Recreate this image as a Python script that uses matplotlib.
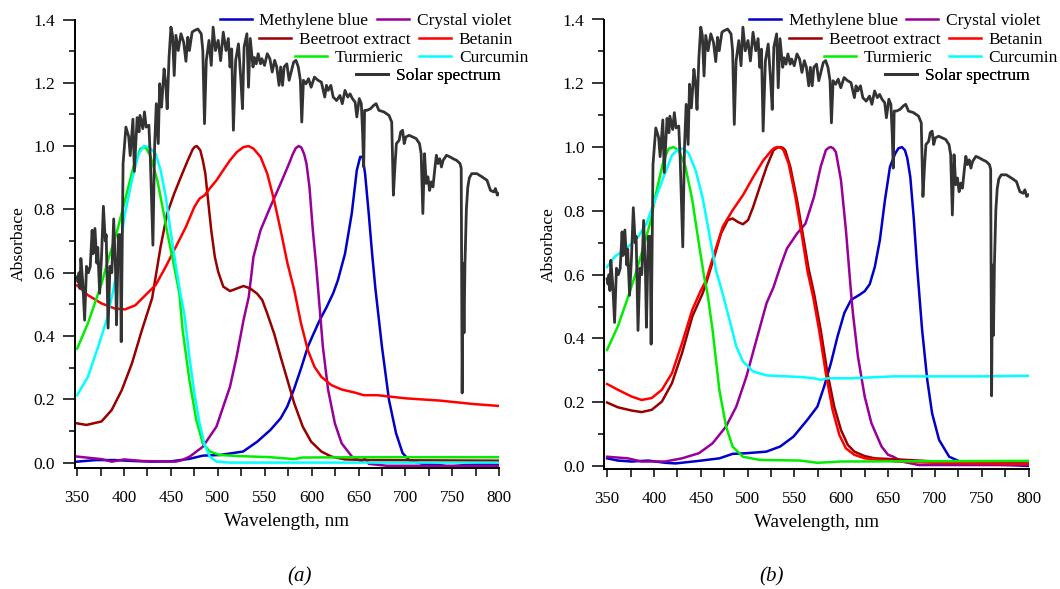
import matplotlib.pyplot as plt
from matplotlib.ticker import MultipleLocator

plt.rcParams['font.family'] = ['Liberation Serif', 'DejaVu Serif']

# solar spectrum (same curve in both panels)
solar_nm = [350, 351, 352, 353, 354, 356, 358, 360, 362, 364,
            366, 367, 369, 371, 372, 374, 376, 378, 380, 381,
            383, 385, 387, 389, 391, 392, 394, 396, 397, 399,
            402, 405, 406.6, 409.5, 411, 414, 416, 417, 420, 421.8,
            423.6, 426.5, 428, 430.8, 432.6, 434.4, 436.5, 438, 440, 442.7,
            444.5, 446, 448, 450, 451.7, 453.5, 455.3, 457.8, 460.7, 463.6,
            466, 468, 469.7, 472.6, 475, 478.7, 482.3, 484, 485.8, 487.7,
            490.6, 493, 495, 497.5, 500.4, 503, 505.8, 508.7, 511.2, 513,
            514.8, 516.6, 519, 522, 524.6, 526.3, 528, 531, 532.7, 534.6,
            537.5, 539, 541, 543, 545.5, 547, 549.8, 552.7, 555.5, 558,
            560.6, 562.8, 565.3, 567, 569, 570.7, 573.6, 576, 578.6, 580.8,
            583.3, 585.8, 588, 589.5, 591.3, 594, 596.7, 599.5, 603, 606.8,
            610.4, 614, 615.8, 617.6, 620.5, 623, 626.6, 630.2, 632.7, 635.6,
            638.5, 641, 643.5, 646.4, 648.2, 650.8, 653, 654.4, 655.5, 656.5,
            659, 662.7, 666.3, 668.8, 671.7, 677.1, 682.5, 685.4, 687.2, 689,
            690.4, 693.3, 695, 697, 698.7, 700.5, 704, 707.8, 711.4, 715,
            716.8, 718.6, 720.4, 722.2, 724, 725.8, 727.6, 729.4, 731.2, 733,
            734.8, 736.6, 738.4, 740.2, 743.8, 747.4, 751, 754.6, 758.2, 759.5,
            760.5, 761.5, 762.5, 763.5, 765, 766.5, 768.2, 770.8, 776.2, 781.6,
            787, 790.7, 794.3, 796, 798, 799.7]
solar_val = [0.587, 0.57, 0.60, 0.55, 0.645, 0.57, 0.45, 0.62, 0.60, 0.62,
             0.734, 0.66, 0.74, 0.63, 0.68, 0.535, 0.65, 0.81, 0.70, 0.72,
             0.425, 0.62, 0.60, 0.77, 0.60, 0.435, 0.72, 0.72, 0.382, 0.945,
             1.06, 1.03, 0.97, 1.085, 0.92, 1.09, 1.045, 1.097, 1.055, 1.108,
             1.06, 1.066, 0.966, 0.687, 0.997, 1.134, 1.008, 1.197, 1.123, 1.244,
             1.197, 1.118, 1.28, 1.376, 1.35, 1.223, 1.35, 1.302, 1.355, 1.328,
             1.268, 1.344, 1.302, 1.36, 1.365, 1.37, 1.355, 1.302, 1.071, 1.27,
             1.334, 1.255, 1.376, 1.302, 1.334, 1.27, 1.36, 1.302, 1.34, 1.25,
             1.307, 1.05, 1.27, 1.323, 1.208, 1.118, 1.313, 1.355, 1.186, 1.34,
             1.25, 1.28, 1.26, 1.292, 1.26, 1.276, 1.255, 1.292, 1.276, 1.234,
             1.271, 1.25, 1.192, 1.25, 1.192, 1.25, 1.26, 1.208, 1.239, 1.265,
             1.271, 1.25, 1.208, 1.076, 1.208, 1.197, 1.213, 1.186, 1.218, 1.208,
             1.202, 1.155, 1.192, 1.176, 1.192, 1.155, 1.144, 1.16, 1.134, 1.176,
             1.155, 1.165, 1.15, 1.139, 1.092, 1.15, 1.134, 1.039, 0.934, 1.113,
             1.113, 1.118, 1.129, 1.134, 1.113, 1.108, 1.097, 1.076, 0.845, 0.945,
             1.008, 1.018, 1.045, 1.05, 1.008, 1.029, 1.034, 1.029, 1.024, 1.008,
             0.976, 0.787, 0.976, 0.882, 0.903, 0.86, 0.887, 0.871, 0.924, 0.971,
             0.945, 0.96, 0.934, 0.955, 0.971, 0.966, 0.96, 0.955, 0.945, 0.93,
             0.22, 0.63, 0.41, 0.63, 0.80, 0.87, 0.90, 0.913, 0.913, 0.903,
             0.892, 0.86, 0.855, 0.866, 0.845, 0.85]

# panel (a)
a_mb_nm = [350, 370, 390, 410, 430, 450, 470, 484, 502, 527,
           542, 556, 567, 574, 581, 589, 596, 601, 608.6, 615.8,
           623, 628, 635.6, 642.8, 648.2, 651.8, 654.4, 657, 660.9, 664.5,
           668, 675, 682.5, 690, 697, 704, 718.5, 735, 747, 765, 787, 800]
a_mb = [0.003, 0.008, 0.008, 0.005, 0.003, 0.004, 0.012, 0.022, 0.024, 0.035,
        0.066, 0.103, 0.14, 0.177, 0.23, 0.30, 0.366, 0.40, 0.45, 0.49,
        0.535, 0.576, 0.66, 0.787, 0.924, 0.966, 0.966, 0.913, 0.787, 0.66,
        0.55, 0.366, 0.198, 0.093, 0.03, 0.008, -0.004, -0.007, -0.013, -0.007, -0.004, -0.007]

a_cv_nm = [350, 376, 387, 400, 420, 455, 462, 470, 484, 498.6,
           513, 520, 527.4, 533, 538, 545.5, 556, 567, 576, 580,
           583, 586, 589, 592, 594.5, 597.7, 601.3, 605, 612, 617.6,
           624.8, 632, 643, 653.6, 656.5, 661, 680, 800]
a_cv = [0.019, 0.011, 0.003, 0.01, 0.005, 0.003, 0.008, 0.019, 0.05, 0.114,
        0.24, 0.334, 0.45, 0.524, 0.65, 0.734, 0.808, 0.882, 0.945, 0.975,
        0.993, 1.0, 0.996, 0.975, 0.945, 0.871, 0.734, 0.618, 0.366, 0.23,
        0.124, 0.061, 0.019, 0.003, 0.014, -0.004, -0.01, -0.01]

a_be_nm = [350, 360, 376, 386.8, 397.6, 408.4, 419, 430, 439, 446,
           453.5, 460.7, 468, 473.3, 475.5, 477.7, 481.3, 484, 486.7, 489.6,
           493, 496.8, 500.4, 505.8, 513, 520.2, 527.4, 534.6, 541.8, 547.3,
           552.7, 560, 567, 574.3, 581.5, 590.5, 599.5, 610.4, 621, 635.6,
           660, 800]
a_be = [0.124, 0.119, 0.13, 0.166, 0.229, 0.313, 0.418, 0.52, 0.682, 0.787,
        0.85, 0.903, 0.955, 0.99, 0.998, 1.0, 0.987, 0.955, 0.913, 0.829,
        0.734, 0.65, 0.603, 0.556, 0.542, 0.55, 0.558, 0.55, 0.534, 0.514,
        0.471, 0.408, 0.334, 0.26, 0.187, 0.114, 0.066, 0.035, 0.019, 0.01,
        0.008, 0.006]

a_bt_nm = [350, 361.5, 376, 390, 401, 412, 422.8, 433.7, 444.5, 455.3,
           466, 475, 480.5, 486, 491.4, 498.6, 505.8, 513, 520.2, 527.4,
           532.8, 538, 545.5, 552.7, 560, 567, 574.3, 581.5, 588.7, 596,
           603, 610.4, 621, 632, 646.4, 655.4, 670, 700.5, 736.6, 772.6, 800]
a_bt = [0.56, 0.529, 0.503, 0.487, 0.484, 0.497, 0.529, 0.561, 0.619, 0.682,
        0.745, 0.808, 0.834, 0.845, 0.866, 0.892, 0.924, 0.955, 0.981, 0.997,
        1.0, 0.992, 0.966, 0.913, 0.829, 0.734, 0.629, 0.545, 0.44, 0.355,
        0.303, 0.271, 0.245, 0.231, 0.221, 0.213, 0.213, 0.203, 0.196, 0.185, 0.179]

a_tu_nm = [350, 361.5, 372.4, 376, 383, 392, 401, 410, 417.4, 422.8,
           428, 435.5, 441, 446.3, 453.5, 459, 462.5, 469.7, 477, 484,
           491.4, 502, 520, 556, 581.5, 590, 650, 800]
a_tu = [0.36, 0.44, 0.534, 0.565, 0.64, 0.724, 0.829, 0.934, 0.992, 0.997,
        0.97, 0.892, 0.808, 0.724, 0.619, 0.535, 0.418, 0.261, 0.135, 0.061,
        0.035, 0.024, 0.021, 0.017, 0.011, 0.016, 0.017, 0.017]

a_cu_nm = [350, 361.5, 372.4, 381.4, 388.6, 390.4, 395.8, 401, 408.4, 415.6,
           421, 426.5, 433.7, 439, 444.5, 450, 455.3, 460.7, 464.3, 469.7,
           475, 480.5, 486, 491.4, 498.6, 513, 800]
a_cu = [0.213, 0.271, 0.366, 0.45, 0.545, 0.575, 0.682, 0.787, 0.892, 0.976,
        1.0, 0.997, 0.976, 0.924, 0.84, 0.724, 0.619, 0.524, 0.47, 0.334,
        0.219, 0.124, 0.056, 0.019, 0.003, 0.0, 0.0]

# panel (b)
b_mb_nm = [350, 361.5, 376, 394, 412, 423, 448, 470, 484, 498.7,
           520, 534.8, 549, 563.6, 574.5, 581.7, 589, 596, 603.3, 610.5,
           619.6, 625, 630.4, 635.8, 641.2, 646.6, 652, 657.5, 661, 664.7,
           668, 670.5, 673.7, 677.3, 681, 686.3, 691.8, 697, 704.4, 715.2,
           729.6, 754.9, 780, 800]
b_mb = [0.024, 0.017, 0.014, 0.017, 0.01, 0.008, 0.016, 0.024, 0.038, 0.04,
        0.045, 0.061, 0.092, 0.144, 0.186, 0.249, 0.323, 0.406, 0.48, 0.521,
        0.537, 0.548, 0.57, 0.624, 0.708, 0.833, 0.938, 0.979, 0.996, 1.0,
        0.99, 0.965, 0.906, 0.78, 0.624, 0.427, 0.27, 0.165, 0.082, 0.029,
        0.01, 0.005, 0.003, 0.0]

b_cv_nm = [350, 372, 386.8, 412, 430, 448, 462.6, 477, 487.9, 498.7,
           509.5, 520.3, 527.6, 534.8, 542, 552.8, 561.8, 570.9, 578, 583.5,
           586.5, 589, 591.5, 594.3, 599.7, 605, 610.5, 612.4, 617.8, 625,
           632.2, 643, 650, 655.6, 664.7, 682.7, 800]
b_cv = [0.029, 0.024, 0.014, 0.014, 0.024, 0.04, 0.071, 0.124, 0.186, 0.28,
        0.396, 0.511, 0.56, 0.624, 0.682, 0.729, 0.76, 0.844, 0.938, 0.99,
        0.998, 1.0, 0.996, 0.984, 0.896, 0.739, 0.541, 0.48, 0.343, 0.218,
        0.134, 0.061, 0.035, 0.029, 0.014, 0.003, 0.003]

b_be_nm = [350, 361.5, 376, 386.8, 397.6, 408.5, 419.3, 430, 441, 451.8,
           455.4, 464.4, 471.6, 478.8, 484, 489.7, 495, 500.5, 505.9, 513,
           520.3, 527.6, 531.5, 534.8, 537.5, 540.2, 545.6, 552.8, 560, 565,
           571, 578, 585.3, 592.5, 599.7, 607, 614, 625, 635.8, 657.5,
           700.8, 800]
b_be = [0.199, 0.184, 0.174, 0.169, 0.176, 0.202, 0.26, 0.354, 0.469, 0.54,
        0.57, 0.656, 0.729, 0.771, 0.776, 0.765, 0.758, 0.771, 0.812, 0.875,
        0.938, 0.99, 0.998, 1.0, 0.998, 0.99, 0.938, 0.833, 0.708, 0.62,
        0.54, 0.427, 0.291, 0.186, 0.113, 0.066, 0.045, 0.031, 0.024, 0.021,
        0.014, 0.008]

b_bt_nm = [350, 361.5, 376, 386.8, 397.6, 408.5, 419.3, 430, 441, 450,
           455.4, 464.4, 473.4, 484, 495, 506, 516.7, 525.7, 529, 532.2,
           535.5, 538.4, 543.8, 551, 558.2, 564, 570, 576.3, 583.5, 590.7,
           598, 605, 614, 625, 660, 700, 800]
b_bt = [0.257, 0.239, 0.218, 0.207, 0.213, 0.239, 0.291, 0.385, 0.49, 0.55,
        0.58, 0.666, 0.75, 0.802, 0.849, 0.906, 0.958, 0.99, 0.998, 1.0,
        0.998, 0.99, 0.948, 0.844, 0.718, 0.61, 0.53, 0.427, 0.291, 0.176,
        0.097, 0.055, 0.035, 0.024, 0.014, 0.01, 0.006]

b_tu_nm = [350, 361.5, 372.4, 379.6, 386.8, 395.8, 403, 410.3, 415.7, 421,
           426.5, 433.7, 441, 448, 453.6, 457.2, 462.6, 469.8, 477, 484,
           495, 513, 556.4, 574.5, 600, 800]
b_tu = [0.364, 0.438, 0.53, 0.595, 0.666, 0.76, 0.865, 0.958, 0.995, 1.0,
        0.99, 0.938, 0.833, 0.697, 0.593, 0.54, 0.427, 0.239, 0.124, 0.061,
        0.029, 0.019, 0.017, 0.01, 0.014, 0.016]

b_cu_nm = [350, 358, 372.4, 383, 392, 401, 410.3, 419.3, 426.5, 432,
           437.3, 444.5, 451.8, 459, 466.2, 473.4, 480.6, 487.9, 495, 506,
           520.3, 556.4, 570.9, 578, 585, 610.5, 655.6, 700.8, 750, 800]
b_cu = [0.624, 0.656, 0.687, 0.718, 0.76, 0.833, 0.906, 0.974, 0.995, 0.995,
        0.979, 0.927, 0.844, 0.729, 0.614, 0.54, 0.459, 0.375, 0.328, 0.296,
        0.284, 0.279, 0.275, 0.27, 0.275, 0.275, 0.281, 0.281, 0.281, 0.283]

labels = ["Methylene blue", "Crystal violet", "Beetroot extract", "Betanin",
          "Turmieric", "Curcumin", "Solar spectrum"]
colors = ["#0000cc", "#990099", "#990000", "#ff0000", "#00ee00", "#00ffff", "#333333"]

panels = {
    "(a)": [(a_mb_nm, a_mb), (a_cv_nm, a_cv), (a_be_nm, a_be), (a_bt_nm, a_bt),
            (a_tu_nm, a_tu), (a_cu_nm, a_cu), (solar_nm, solar_val)],
    "(b)": [(b_mb_nm, b_mb), (b_cv_nm, b_cv), (b_be_nm, b_be), (b_bt_nm, b_bt),
            (b_tu_nm, b_tu), (b_cu_nm, b_cu), (solar_nm, solar_val)],
}

W, H = 1060, 589
fig = plt.figure(figsize=(W / 100, H / 100), dpi=100)

# axes boxes in pixels: left, top, right, bottom, xmin, ymin, tag x
boxes = {
    "(a)": (74.5, 19.5, 499.2, 468.3, 347.2, -0.018, 300),
    "(b)": (604.0, 19.5, 1028.6, 469.3, 346.7, -0.0104, 772),
}
# legend entries: handle left / row centre, pixels from axes left / figure top
leg_pos = [(145.2, 21), (302.4, 21), (184.8, 39.5), (344.6, 39.5),
           (220.2, 57.5), (344.6, 57.5), (281.4, 75.5)]

for tag, series in panels.items():
    l, t, r, b, xmin, ymin, tx = boxes[tag]
    ax = fig.add_axes([l / W, 1 - b / H, (r - l) / W, (b - t) / H])
    lines = []
    for (nm, val), lab, col in zip(series, labels, colors):
        solar = lab == "Solar spectrum"
        ln, = ax.plot(nm, val, color=col, lw=2.0 if solar else 1.8,
                      zorder=3 if solar else 2, solid_joinstyle='round')
        lines.append(ln)
    ax.set_xlim(xmin, 800)
    ax.set_ylim(ymin, 1.4)
    ax.xaxis.set_major_locator(MultipleLocator(50))
    ax.xaxis.set_minor_locator(MultipleLocator(25))
    ax.yaxis.set_major_locator(MultipleLocator(0.2))
    ax.yaxis.set_minor_locator(MultipleLocator(0.1))
    for s in ["top", "right"]:
        ax.spines[s].set_visible(False)
    for s in ["left", "bottom"]:
        ax.spines[s].set_linewidth(1.4)
    ax.tick_params(axis='y', which='major', length=9, width=1.1, labelsize=12.5, pad=4.9)
    ax.tick_params(axis='y', which='minor', length=4.4, width=1.1)
    ax.tick_params(axis='x', which='both', length=6, width=1.1, labelsize=12.2, pad=9.5)
    ax.set_xlabel("Wavelength, nm", fontsize=13.8, labelpad=5)
    ax.set_ylabel("Absorbace", fontsize=12.6, labelpad=4.5)

    for ln, lab, (px, py) in zip(lines, labels, leg_pos):
        fx = px / (r - l)
        fy = 1 - (py - t) / (b - t)
        lg = ax.legend([ln], [lab], loc='center left', bbox_to_anchor=(fx, fy),
                       frameon=False, borderpad=0, borderaxespad=0,
                       handlelength=1.84, handletextpad=0.45, fontsize=12.5)
        ax.add_artist(lg)

    fig.text(tx / W, 1 - 577 / H, tag, ha='center', va='center',
             fontsize=15, style='italic')

fig.savefig("out.png", dpi=100)
